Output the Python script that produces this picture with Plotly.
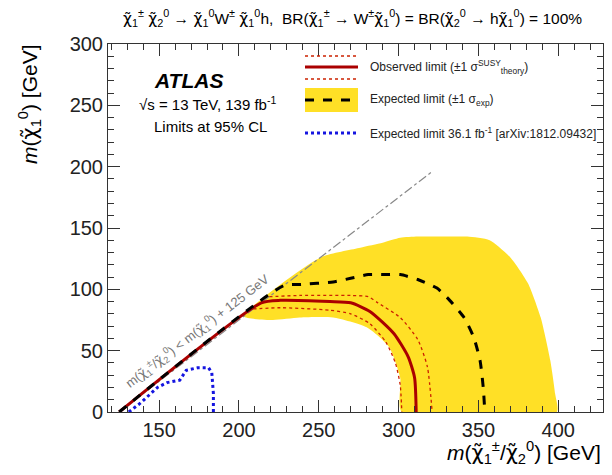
import plotly.graph_objects as go

# ---- data (GeV) ----
diag_x = [125, 321]
diag_y = [0, 196]

band_outer_x = [251, 276, 290, 301, 312, 330, 343, 357, 370, 381, 389, 395, 398, 399]
band_outer_y = [126, 134, 138, 142, 143, 143, 143, 140, 126, 105, 77, 42, 15, 0]
band_inner_x = [203, 221, 238, 259, 280, 294, 301, 302]
band_inner_y = [78, 75, 77, 77, 69, 53, 28, 0]

exp_x = [125, 228, 239, 259, 270, 281, 291, 301, 312, 324, 332, 341, 347, 351, 353, 354]
exp_y = [0, 103, 104, 106, 109, 112, 112, 112, 108, 101, 91, 77, 61, 42, 20, 0]

obs_x = [125, 214, 226, 257, 270, 282, 297, 306, 310, 311]
obs_y = [0, 89, 91, 90, 89, 82, 64, 45, 28, 0]

obs_up_x = [219, 238, 270, 281, 287, 301, 312, 318, 321]
obs_up_y = [94, 95, 95, 94, 89, 77, 59, 37, 0]
obs_dn_x = [209, 226, 257, 270, 282, 292, 298, 301, 302]
obs_dn_y = [84, 85, 83, 80, 72, 57, 40, 22, 0]

old_x = [131, 138, 149, 155, 163, 167, 174, 181, 183, 184, 184]
old_y = [0, 7, 20, 24, 26, 34, 36, 36, 32, 15, 0]

x_range = [118, 428]
y_range = [0, 300]

FONT = "Liberation Sans, Arial, sans-serif"
YELLOW = "#FFE026"
RED = "#AA0000"
DOTRED = "#CC2200"
BLUE = "#1515E0"

fig = go.Figure()

# yellow expected band
bx = band_inner_x[:1] + band_outer_x + band_inner_x[::-1]
by = band_inner_y[:1] + band_outer_y + band_inner_y[::-1]
fig.add_trace(go.Scatter(x=bx, y=by, fill="toself", fillcolor=YELLOW,
                         line=dict(width=0, shape="spline", smoothing=0.6),
                         mode="lines", hoverinfo="skip"))

# kinematic diagonal
fig.add_trace(go.Scatter(x=diag_x, y=diag_y, mode="lines",
                         line=dict(color="#888888", width=1.2, dash="dashdot")))

# observed +-1 sigma
fig.add_trace(go.Scatter(x=obs_up_x, y=obs_up_y, mode="lines",
                         line=dict(color=DOTRED, width=1.3, dash="dot", shape="spline", smoothing=0.6)))
fig.add_trace(go.Scatter(x=obs_dn_x, y=obs_dn_y, mode="lines",
                         line=dict(color=DOTRED, width=1.3, dash="dot", shape="spline", smoothing=0.6)))
# observed
fig.add_trace(go.Scatter(x=obs_x, y=obs_y, mode="lines",
                         line=dict(color=RED, width=3, shape="spline", smoothing=0.6)))
# expected
fig.add_trace(go.Scatter(x=exp_x, y=exp_y, mode="lines",
                         line=dict(color="black", width=3, dash="dash", shape="spline", smoothing=0.6)))
# old expected
fig.add_trace(go.Scatter(x=old_x, y=old_y, mode="lines",
                         line=dict(color=BLUE, width=3, dash="dot")))

# ---- legend drawn by hand (paper coords) ----
def px2x(px):
    return (px - 108) / 495.0

def py2y(py):
    return (412 - py) / 368.0

shapes = []
x0, x1 = px2x(305), px2x(358)
shapes.append(dict(type="line", xref="paper", yref="paper", x0=x0, x1=x1,
                   y0=py2y(56), y1=py2y(56), line=dict(color=DOTRED, width=1.3, dash="dot")))
shapes.append(dict(type="line", xref="paper", yref="paper", x0=x0, x1=x1,
                   y0=py2y(67), y1=py2y(67), line=dict(color=RED, width=3)))
shapes.append(dict(type="line", xref="paper", yref="paper", x0=x0, x1=x1,
                   y0=py2y(79), y1=py2y(79), line=dict(color=DOTRED, width=1.3, dash="dot")))
shapes.append(dict(type="rect", xref="paper", yref="paper", x0=x0, x1=x1,
                   y0=py2y(112), y1=py2y(88), fillcolor=YELLOW, line=dict(width=0)))
shapes.append(dict(type="line", xref="paper", yref="paper", x0=x0, x1=x1,
                   y0=py2y(100), y1=py2y(100), line=dict(color="black", width=3, dash="dash")))
shapes.append(dict(type="line", xref="paper", yref="paper", x0=x0, x1=x1,
                   y0=py2y(133), y1=py2y(133), line=dict(color=BLUE, width=3, dash="dot")))


def chi(color="black"):
    return f"<span style=\"font-family:'DejaVu Sans';color:{color}\">\u03c7\u0303</span>"


C = chi()
G = chi("#777777")
annotations = [
    dict(xref="paper", yref="paper", x=px2x(368), y=py2y(67), xanchor="left", yanchor="middle",
         text="Observed limit (\u00b11 \u03c3<sup>SUSY</sup><sub>theory</sub>)", showarrow=False,
         font=dict(size=12, color="#222", family=FONT)),
    dict(xref="paper", yref="paper", x=px2x(368), y=py2y(100), xanchor="left", yanchor="middle",
         text="Expected limit (\u00b11 \u03c3<sub>exp</sub>)", showarrow=False,
         font=dict(size=12, color="#222", family=FONT)),
    dict(xref="paper", yref="paper", x=px2x(368), y=py2y(133), xanchor="left", yanchor="middle",
         text="Expected limit 36.1 fb<sup>-1</sup> [arXiv:1812.09432]", showarrow=False,
         font=dict(size=12, color="#222", family=FONT)),
    dict(xref="paper", yref="paper", x=px2x(152), y=py2y(81), xanchor="left", yanchor="middle",
         text="<b><i>ATLAS</i></b>", showarrow=False,
         font=dict(size=21, color="black", family=FONT)),
    dict(xref="paper", yref="paper", x=px2x(137), y=py2y(103), xanchor="left", yanchor="middle",
         text="\u221As = 13 TeV, 139 fb<sup>-1</sup>", showarrow=False,
         font=dict(size=15, color="black", family=FONT)),
    dict(xref="paper", yref="paper", x=px2x(152), y=py2y(126), xanchor="left", yanchor="middle",
         text="Limits at 95% CL", showarrow=False,
         font=dict(size=15, color="black", family=FONT)),
    # title
    dict(xref="paper", yref="paper", x=px2x(352), y=py2y(18), xanchor="center", yanchor="middle",
         text=(f"{C}<sub>1</sub><sup>\u00b1</sup> {C}<sub>2</sub><sup>0</sup> \u2192 "
               f"{C}<sub>1</sub><sup>0</sup>W<sup>\u00b1</sup> {C}<sub>1</sub><sup>0</sup>h,  "
               f"BR({C}<sub>1</sub><sup>\u00b1</sup> \u2192 W<sup>\u00b1</sup>{C}<sub>1</sub><sup>0</sup>) = "
               f"BR({C}<sub>2</sub><sup>0</sup> \u2192 h{C}<sub>1</sub><sup>0</sup>) = 100%"),
         showarrow=False, font=dict(size=15.5, color="black", family=FONT)),
    # axis titles
    dict(xref="paper", yref="paper", x=px2x(30), y=py2y(104), xanchor="center", yanchor="middle",
         textangle=-90, text=f"<i>m</i>({C}<sub>1</sub><sup>0</sup>) [GeV]", showarrow=False,
         font=dict(size=21, color="black", family=FONT)),
    dict(xref="paper", yref="paper", x=1.0, y=py2y(452), xanchor="right", yanchor="middle",
         text=f"<i>m</i>({C}<sub>1</sub><sup>\u00b1</sup>/{C}<sub>2</sub><sup>0</sup>) [GeV]",
         showarrow=False, font=dict(size=21, color="black", family=FONT)),
    # diagonal label
    dict(xref="x", yref="y", x=174, y=66, xanchor="center", yanchor="middle", textangle=-37.5,
         text=f"m({G}<sub>1</sub><sup>\u00b1</sup>/{G}<sub>2</sub><sup>0</sup>) < m({G}<sub>1</sub><sup>0</sup>) + 125 GeV",
         showarrow=False, font=dict(size=13, color="#777777", family=FONT)),
]

axis_common = dict(
    showgrid=False, zeroline=False, showline=True, linecolor="#333", linewidth=1,
    mirror="ticks", ticks="inside", ticklen=12, tickwidth=1, tickcolor="#333",
    tickfont=dict(size=20, color="#222", family=FONT),
    minor=dict(ticks="inside", ticklen=6, tickwidth=1, tickcolor="#333", dtick=10),
)

fig.update_layout(
    width=612, height=475,
    margin=dict(l=108, r=9, t=44, b=63),
    paper_bgcolor="white", plot_bgcolor="white",
    showlegend=False,
    shapes=shapes, annotations=annotations,
    xaxis=dict(range=x_range, tickvals=[150, 200, 250, 300, 350, 400], **axis_common),
    yaxis=dict(range=y_range, tickvals=[0, 50, 100, 150, 200, 250, 300], **axis_common),
)

fig.write_html("out.html")
